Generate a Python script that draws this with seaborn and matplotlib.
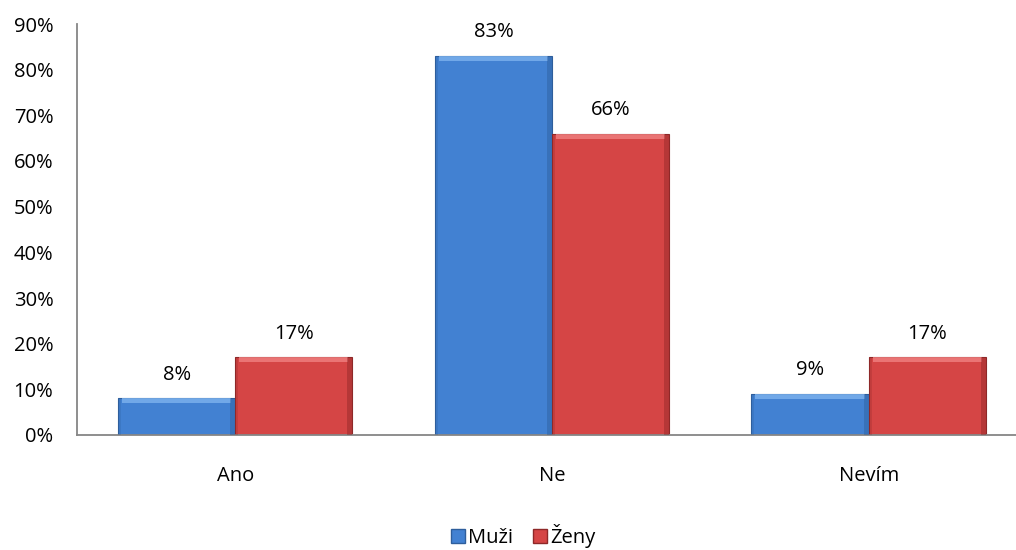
import matplotlib
matplotlib.use("Agg")
import matplotlib.pyplot as plt
import seaborn as sns
import pandas as pd
from matplotlib.patches import Rectangle, Patch

categories = ["Ano", "Ne", "Nevím"]
series = ["Muži", "Ženy"]
muzi = [8, 83, 9]
zeny = [17, 66, 17]
yticks = [0, 10, 20, 30, 40, 50, 60, 70, 80, 90]

colors = {"Muži": "#4281D2", "Ženy": "#D54545"}
edge = {"Muži": "#2E5E9C", "Ženy": "#8E2828"}
light = {"Muži": "#7DB3EE", "Ženy": "#F08080"}

df = pd.DataFrame({
    "cat": categories * 2,
    "ser": [series[0]] * 3 + [series[1]] * 3,
    "val": muzi + zeny,
})

sns.set_style("white")
plt.rcParams["font.family"] = ["Open Sans", "DejaVu Sans"]
plt.rcParams["text.color"] = "black"
plt.rcParams["xtick.color"] = "black"
plt.rcParams["ytick.color"] = "black"

W, H = 1016, 550
fig = plt.figure(figsize=(W / 100, H / 100), dpi=100)
ax_l, ax_r, ax_t, ax_b = 77, 1027, 24, 435
ax = fig.add_axes([ax_l / W, (H - ax_b) / H, (ax_r - ax_l) / W, (ax_b - ax_t) / H])

sns.barplot(data=df, x="cat", y="val", hue="ser", palette=colors, ax=ax,
            width=0.74, saturation=1, legend=False, errorbar=None)

ax.set_ylim(0, 90)
ax.set_xlim(-0.5, 2.5)
ax.set_yticks(yticks)
ax.set_yticklabels([f"{v}%" for v in yticks], fontsize=14.5)
ax.tick_params(axis="y", length=0, pad=17)
ax.tick_params(axis="x", length=0, pad=22, labelsize=14.5)
ax.set_xlabel("")
ax.set_ylabel("")
for s in ["top", "right"]:
    ax.spines[s].set_visible(False)
for s in ["left", "bottom"]:
    ax.spines[s].set_color("#868686")
    ax.spines[s].set_linewidth(1.3)

# bevel effect and labels
px_y = 90 / (ax_b - ax_t)
px_x = 3 / (ax_r - ax_l)
for container, name in zip(ax.containers, series):
    for bar in container:
        x0, w = bar.get_x(), bar.get_width()
        h = bar.get_height()
        bar.set_edgecolor(edge[name])
        bar.set_linewidth(0.8)
        bh = min(5 * px_y, h * 0.3)
        ax.add_patch(Rectangle((x0 + 4 * px_x, h - bh), w - 8 * px_x, bh,
                               facecolor=light[name], edgecolor="none", alpha=0.8, zorder=3))
        ax.add_patch(Rectangle((x0 + w - 5 * px_x, 0), 5 * px_x, h,
                               facecolor=edge[name], edgecolor="none", alpha=0.45, zorder=3))
        ax.add_patch(Rectangle((x0, 0), 3 * px_x, h,
                               facecolor=edge[name], edgecolor="none", alpha=0.25, zorder=3))
        ax.annotate(f"{h:.0f}%", (x0 + w / 2, h), xytext=(0, 17), textcoords="offset points",
                    ha="center", va="center", fontsize=14.5)

handles = [Patch(facecolor=colors[s], edgecolor=edge[s], label=s) for s in series]
fig.legend(handles=handles, loc="center", bbox_to_anchor=(0.515, 0.025), ncol=2,
           frameon=False, fontsize=14.5, handlelength=0.7, handleheight=0.7,
           handletextpad=0.15, columnspacing=1.0)

fig.savefig("out.png", dpi=100)
